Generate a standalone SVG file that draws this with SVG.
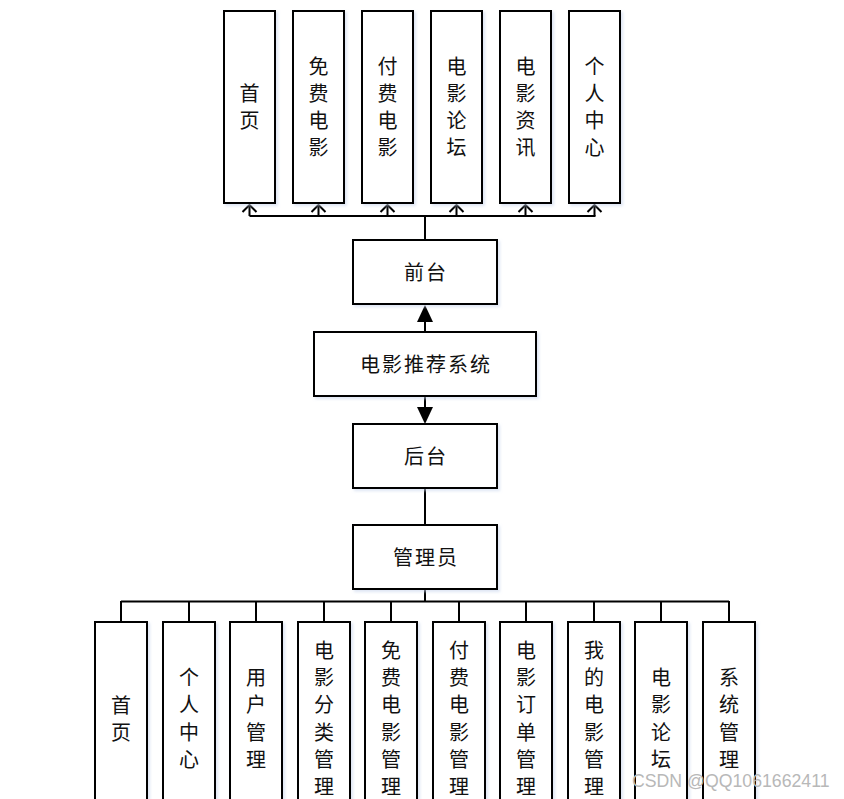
<svg xmlns="http://www.w3.org/2000/svg" width="844" height="799" viewBox="0 0 844 799">
<style>
.box{fill:#fff;stroke:#000;stroke-width:2}
.ln{fill:none;stroke:#000;stroke-width:2}
.t{font-family:"Noto Sans CJK SC","Noto Sans",sans-serif;font-size:20px;fill:#111;text-anchor:middle}
.wm{font-family:"Liberation Sans",Arial,sans-serif;font-size:17.7px;fill:#b8b8b8}
</style>
<defs>
<filter id="sh" x="-10%" y="-10%" width="130%" height="130%">
<feDropShadow dx="2" dy="2" stdDeviation="1.5" flood-color="#c8d4ec" flood-opacity="0.6"/>
</filter>
</defs>
<rect width="844" height="799" fill="#fff"/>
<g id="connectors">
<path class="ln" d="M425,240 V216 M249.5,216 H595.5"/>
<path class="ln" d="M249.5,216 V205 M318.5,216 V205 M387.5,216 V205 M456.5,216 V205 M525.5,216 V205 M594.5,216 V205"/>
<path class="ln" d="M242.5,212 L249.5,205 L256.5,212 M311.5,212 L318.5,205 L325.5,212 M380.5,212 L387.5,205 L394.5,212 M449.5,212 L456.5,205 L463.5,212 M518.5,212 L525.5,205 L532.5,212 M587.5,212 L594.5,205 L601.5,212"/>
<path class="ln" d="M425,332 V320"/>
<path d="M417,322 L425,305 L433,322 Z" fill="#000"/>
<path class="ln" d="M425,396 V408"/>
<path d="M417,407 L425,424 L433,407 Z" fill="#000"/>
<path class="ln" d="M425,488 V525"/>
<path class="ln" d="M425,589 V601.5 M121,601.5 H729"/>
<path class="ln" d="M121,601 V622 M189,601 V622 M256,601 V622 M324,601 V622 M391,601 V622 M459,601 V622 M526,601 V622 M594,601 V622 M661,601 V622 M729,601 V622"/>
</g>
<g id="top-home"><rect class="box" x="224" y="11" width="51" height="192" filter="url(#sh)"/><text class="t"><tspan x="249.5" y="101">首</tspan><tspan x="249.5" y="128">页</tspan></text></g>
<g id="top-free"><rect class="box" x="293" y="11" width="51" height="192" filter="url(#sh)"/><text class="t"><tspan x="318.5" y="74">免</tspan><tspan x="318.5" y="101">费</tspan><tspan x="318.5" y="128">电</tspan><tspan x="318.5" y="155">影</tspan></text></g>
<g id="top-paid"><rect class="box" x="362" y="11" width="51" height="192" filter="url(#sh)"/><text class="t"><tspan x="387.5" y="74">付</tspan><tspan x="387.5" y="101">费</tspan><tspan x="387.5" y="128">电</tspan><tspan x="387.5" y="155">影</tspan></text></g>
<g id="top-forum"><rect class="box" x="431" y="11" width="51" height="192" filter="url(#sh)"/><text class="t"><tspan x="456.5" y="74">电</tspan><tspan x="456.5" y="101">影</tspan><tspan x="456.5" y="128">论</tspan><tspan x="456.5" y="155">坛</tspan></text></g>
<g id="top-news"><rect class="box" x="500" y="11" width="51" height="192" filter="url(#sh)"/><text class="t"><tspan x="525.5" y="74">电</tspan><tspan x="525.5" y="101">影</tspan><tspan x="525.5" y="128">资</tspan><tspan x="525.5" y="155">讯</tspan></text></g>
<g id="top-user"><rect class="box" x="569" y="11" width="51" height="192" filter="url(#sh)"/><text class="t"><tspan x="594.5" y="74">个</tspan><tspan x="594.5" y="101">人</tspan><tspan x="594.5" y="128">中</tspan><tspan x="594.5" y="155">心</tspan></text></g>
<g id="frontend"><rect class="box" x="353" y="240" width="144" height="64" filter="url(#sh)"/><text class="t" x="426" y="280" letter-spacing="2">前台</text></g>
<g id="system"><rect class="box" x="314" y="332" width="222" height="64" filter="url(#sh)"/><text class="t" x="426" y="372" letter-spacing="2">电影推荐系统</text></g>
<g id="backend"><rect class="box" x="353" y="424" width="144" height="64" filter="url(#sh)"/><text class="t" x="426" y="464" letter-spacing="2">后台</text></g>
<g id="admin"><rect class="box" x="353" y="525" width="144" height="64" filter="url(#sh)"/><text class="t" x="426" y="565" letter-spacing="2">管理员</text></g>
<g id="b-home"><rect class="box" x="95" y="622" width="52" height="190" filter="url(#sh)"/><text class="t"><tspan x="121" y="713">首</tspan><tspan x="121" y="740">页</tspan></text></g>
<g id="b-user"><rect class="box" x="163" y="622" width="52" height="190" filter="url(#sh)"/><text class="t"><tspan x="189" y="685">个</tspan><tspan x="189" y="712">人</tspan><tspan x="189" y="740">中</tspan><tspan x="189" y="767">心</tspan></text></g>
<g id="b-users"><rect class="box" x="230" y="622" width="52" height="190" filter="url(#sh)"/><text class="t"><tspan x="256" y="685">用</tspan><tspan x="256" y="712">户</tspan><tspan x="256" y="740">管</tspan><tspan x="256" y="767">理</tspan></text></g>
<g id="b-category"><rect class="box" x="298" y="622" width="52" height="190" filter="url(#sh)"/><text class="t"><tspan x="324" y="658">电</tspan><tspan x="324" y="685">影</tspan><tspan x="324" y="712">分</tspan><tspan x="324" y="740">类</tspan><tspan x="324" y="767">管</tspan><tspan x="324" y="794">理</tspan></text></g>
<g id="b-free"><rect class="box" x="365" y="622" width="52" height="190" filter="url(#sh)"/><text class="t"><tspan x="391" y="658">免</tspan><tspan x="391" y="685">费</tspan><tspan x="391" y="712">电</tspan><tspan x="391" y="740">影</tspan><tspan x="391" y="767">管</tspan><tspan x="391" y="794">理</tspan></text></g>
<g id="b-paid"><rect class="box" x="433" y="622" width="52" height="190" filter="url(#sh)"/><text class="t"><tspan x="459" y="658">付</tspan><tspan x="459" y="685">费</tspan><tspan x="459" y="712">电</tspan><tspan x="459" y="740">影</tspan><tspan x="459" y="767">管</tspan><tspan x="459" y="794">理</tspan></text></g>
<g id="b-order"><rect class="box" x="500" y="622" width="52" height="190" filter="url(#sh)"/><text class="t"><tspan x="526" y="658">电</tspan><tspan x="526" y="685">影</tspan><tspan x="526" y="712">订</tspan><tspan x="526" y="740">单</tspan><tspan x="526" y="767">管</tspan><tspan x="526" y="794">理</tspan></text></g>
<g id="b-mine"><rect class="box" x="568" y="622" width="52" height="190" filter="url(#sh)"/><text class="t"><tspan x="594" y="658">我</tspan><tspan x="594" y="685">的</tspan><tspan x="594" y="712">电</tspan><tspan x="594" y="740">影</tspan><tspan x="594" y="767">管</tspan><tspan x="594" y="794">理</tspan></text></g>
<g id="b-forum"><rect class="box" x="635" y="622" width="52" height="190" filter="url(#sh)"/><text class="t"><tspan x="661" y="685">电</tspan><tspan x="661" y="712">影</tspan><tspan x="661" y="740">论</tspan><tspan x="661" y="767">坛</tspan></text></g>
<g id="b-system"><rect class="box" x="703" y="622" width="52" height="190" filter="url(#sh)"/><text class="t"><tspan x="729" y="685">系</tspan><tspan x="729" y="712">统</tspan><tspan x="729" y="740">管</tspan><tspan x="729" y="767">理</tspan></text></g>
<text class="wm" x="632" y="787">CSDN @QQ1061662411</text>
</svg>
